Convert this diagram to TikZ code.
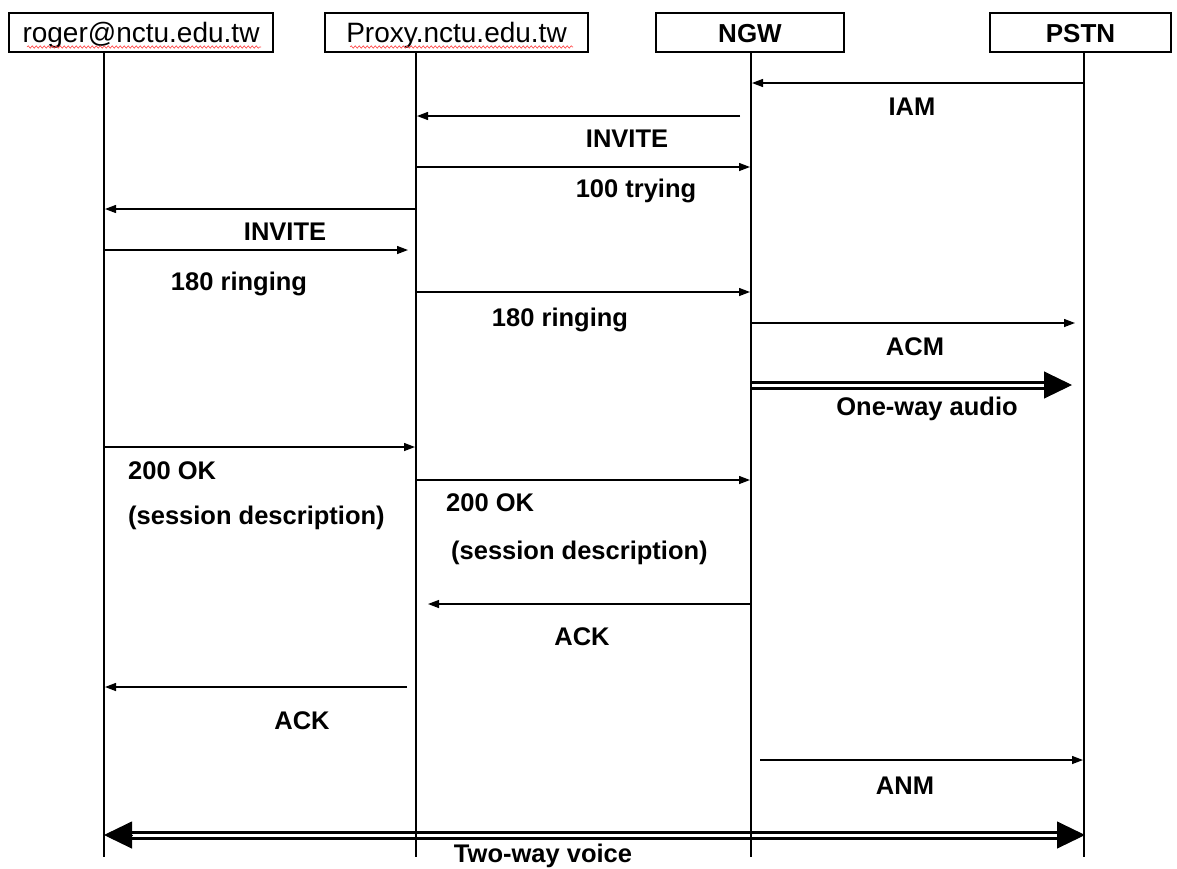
\documentclass[tikz,border=0pt]{standalone}
\usepackage{fontspec}
\setmainfont{Liberation Sans}
\usetikzlibrary{arrows.meta, decorations.pathmorphing}
\tikzset{
  hdr/.style={draw, line width=1.5pt, minimum height=39pt, inner sep=0pt,
    text height=20pt, text depth=0pt, font=\fontsize{28}{32}\selectfont},
  hdrb/.style={hdr, font=\fontsize{26}{31}\selectfont\bfseries},
  lifeline/.style={line width=1.3pt},
  msg/.style={line width=1.3pt, -{Triangle[length=11pt, width=8pt]}},
  stream/.style={draw=black, double=white, line width=3pt, double distance=3pt},
  streamtip/.style={line width=1pt, -{Triangle[length=28pt, width=27pt]}},
  lbl/.style={font=\fontsize{25.5}{30}\selectfont\bfseries, inner sep=0pt, anchor=base},
  squiggle/.style={red!75, line width=0.6pt, decorate,
    decoration={snake, amplitude=1.2pt, segment length=4pt}}
}

\begin{document}
\begin{tikzpicture}[x=1pt, y=-1pt]
  \useasboundingbox (0,0) rectangle (1177,868);
  % participants
  \node[hdr, minimum width=264pt] (roger) at (141,32.5) {roger@nctu.edu.tw};
  \node[hdr, minimum width=263pt] (proxy) at (456.5,32.5) {Proxy.nctu.edu.tw};
  \node[hdrb, minimum width=188pt] (ngw) at (750,32.5) {NGW};
  \node[hdrb, minimum width=181pt] (pstn) at (1080.5,32.5) {PSTN};
  \draw[squiggle] (27,47) -- (261,47);
  \draw[squiggle] (350,47) -- (573,47);
  % media streams
  \coordinate (oa) at (750,385);
  \coordinate (ob) at (1072,385);
  \draw[stream, shorten >=26pt] (oa) -- (ob);
  \draw[streamtip] ([xshift=-28pt]ob) -- (ob);
  \coordinate (va) at (104,835);
  \coordinate (vb) at (1085,835);
  \draw[stream, shorten <=26pt, shorten >=26pt] (va) -- (vb);
  \draw[streamtip] ([xshift=28pt]va) -- (va);
  \draw[streamtip] ([xshift=-28pt]vb) -- (vb);
  % lifelines
  \foreach \n/\x in {r/104, p/416, g/751, s/1084}{
    \coordinate (\n top) at (\x,52);
    \coordinate (\n bot) at (\x,857);
    \draw[lifeline] (\n top) -- (\n bot);
  }
  % signalling
  \foreach \i/\y/\xa/\xb in {1/83/1083/752, 2/116/740/417, 3/167/416/750,
      4/209/416/105, 5/250/104/408, 6/292/416/750, 7/323/751/1075,
      8/447/104/415, 9/480/416/750, 10/604/750/428, 11/687/407/105,
      12/760/760/1083}{
    \coordinate (m\i a) at (\xa,\y);
    \coordinate (m\i b) at (\xb,\y);
    \draw[msg] (m\i a) -- (m\i b);
  }
  \foreach \i/\x/\y/\t in {1/912/115/IAM, 2/627/147/INVITE, 3/636/197/100 trying,
      4/285/240/INVITE, 5/239/290/180 ringing, 6/560/326/180 ringing,
      7/915/355/ACM, 8/927/415/One-way audio, 10/582/645/ACK, 11/302/729/ACK,
      12/905/794/ANM, 13/543/862/Two-way voice}{
    \node[lbl] (l\i) at (\x,\y) {\t};
  }
  \node[lbl, anchor=base west] (ok1) at (128,479) {200 OK};
  \node[lbl, anchor=base west] (sd1) at (128,524) {(session description)};
  \node[lbl, anchor=base west] (ok2) at (446,511) {200 OK};
  \node[lbl, anchor=base west] (sd2) at (451,559) {(session description)};
\end{tikzpicture}
\end{document}
